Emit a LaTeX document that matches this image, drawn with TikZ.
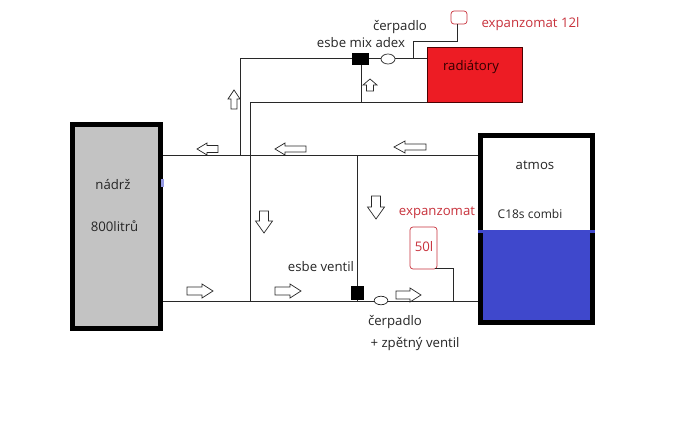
\documentclass[tikz,border=0pt]{standalone}
\usepackage{fontspec}
\setmainfont{Open Sans}
\definecolor{tankgrey}{RGB}{195,195,195}
\definecolor{boilerblue}{RGB}{63,72,204}
\definecolor{radred}{RGB}{237,28,36}
\definecolor{labelred}{RGB}{200,50,60}
\definecolor{pipe}{RGB}{40,40,40}
\tikzset{
  x=1pt,y=-1pt,
  pipeline/.style={draw=pipe,line width=1pt},
  tankbox/.style={draw=black,line width=5pt,outer sep=0pt,inner sep=0pt,anchor=north west},
  blockarrow/.style={draw=pipe,line width=.7pt,fill=white,line join=miter},
  lbl/.style={font=\fontsize{13.2}{15}\selectfont,text=black!85,inner sep=0pt},
  redlbl/.style={lbl,text=labelred},
  valve/.style={fill=black,draw=none,inner sep=0pt,outer sep=0pt},
  pumpbody/.style={draw=pipe,fill=white,line width=.7pt,shape=circle,inner sep=0pt},
  expbox/.style={draw=labelred,fill=white,line width=.7pt,rounded corners=3pt,inner sep=0pt}
}
% tail x, tail y, angle, total length, head length, head width, shaft width
\newcommand{\barrow}[7]{%
  \draw[blockarrow,shift={(#1,#2)},rotate=#3]
    (0,-#7/2) -- (#4-#5,-#7/2) -- (#4-#5,-#6/2) -- (#4,0) -- (#4-#5,#6/2) -- (#4-#5,#7/2) -- (0,#7/2) -- cycle;}
\begin{document}
\begin{tikzpicture}
\useasboundingbox[fill=white] (0,0) rectangle (700,446);
% pipes
\coordinate (tl) at (163,156); \coordinate (tr) at (478,156);
\coordinate (bl) at (163,301); \coordinate (br) at (478,301);
\draw[pipeline] (tl) -- (tr);
\draw[pipeline] (bl) -- (br);
\draw[pipeline] (240.5,156) -- (240.5,58.5) -- (427,58.5);
\draw[pipeline] (427,103) -- (250.5,103) -- (250.5,301);
\draw[pipeline] (361,58.5) -- (361,103);
\draw[pipeline] (357.5,156) -- (357.5,301);
% tank
\node[tankbox,fill=tankgrey,minimum width=88pt,minimum height=204pt] (tank) at (72.5,124.5) {};
\fill[boilerblue!55] (161,179) rectangle (164,187);
% boiler
\fill[boilerblue] (480,231) rectangle (593,322);
\node[tankbox,minimum width=112pt,minimum height=187pt] (boiler) at (480.5,135.5) {};
\draw[boilerblue,line width=3pt] (478,231.5) -- (595,231.5);
% radiators
\node[draw=black!70!red,fill=radred,line width=1pt,outer sep=0pt,minimum width=95pt,minimum height=55pt,inner sep=0pt,anchor=north west] (rad) at (427,48) {};
\node[lbl,text=black!80!red] at (471,67) {radiátory};
% top valve/pump/expansion
\node[valve,minimum width=17pt,minimum height=12pt] (mix) at (360.5,59) {};
\node[pumpbody,xscale=1.4,minimum size=10pt] (ptop) at (388,59) {};
\node[expbox,minimum width=16pt,minimum height=13pt] (exptop) at (459,17.5) {};
\draw[pipeline] (413,58.5) -- (413,41.5) -- (457,41.5) -- (457,24);
% bottom valve/pump/expansion
\node[valve,minimum width=13pt,minimum height=14pt] (esbe) at (357.5,293) {};
\node[pumpbody,xscale=1.6,minimum size=8.5pt] (pbot) at (381,300.5) {};
\node[expbox,minimum width=27pt,minimum height=42pt] (expbot) at (423.5,248) {};
\draw[pipeline] (435,268) -- (453,268) -- (453,301);
% arrows
\barrow{234}{109}{90}{19}{9}{12}{6}
\barrow{370}{91}{90}{12}{6}{14}{7}
\barrow{218}{149}{180}{21}{10}{12}{7}
\barrow{306}{149}{180}{31}{10}{12}{6}
\barrow{426}{147}{180}{32}{11}{12}{6}
\barrow{264}{211}{-90}{22}{12}{17}{9}
\barrow{376}{196}{-90}{23}{12}{17}{9}
\barrow{187}{291}{0}{26}{11}{14}{8}
\barrow{275}{291}{0}{26}{11}{14}{8}
\barrow{396}{295}{0}{25}{11}{14}{8}
% labels
\node[lbl] (t1) at (113,185) {nádrž};
\node[lbl] (t2) at (114.5,226) {800litrů};
\node[lbl] (t3) at (535,165) {atmos};
\node[lbl,font=\fontsize{12}{15}\selectfont] (t4) at (530,214) {C18s combi};
\node[lbl] (t5) at (400,27) {čerpadlo};
\node[lbl] (t6) at (361,43) {esbe mix adex};
\node[redlbl] (t7) at (530.5,24) {expanzomat 12l};
\node[redlbl] (t8) at (437,213) {expanzomat};
\node[redlbl] (t9) at (424,247) {50l};
\node[lbl] (t10) at (321,267) {esbe ventil};
\node[lbl] (t11) at (395,322) {čerpadlo};
\node[lbl] (t12) at (415,344) {+ zpětný ventil};
\end{tikzpicture}
\end{document}
